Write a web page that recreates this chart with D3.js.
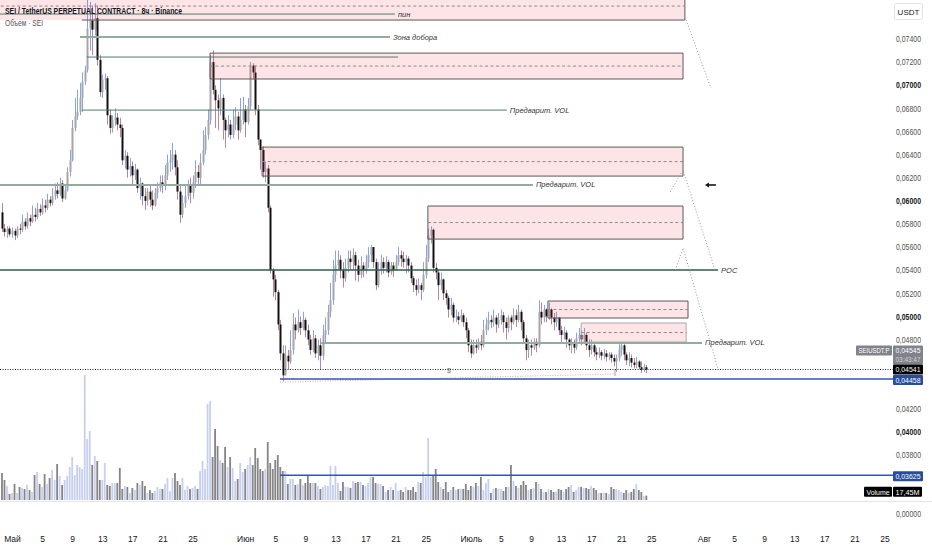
<!DOCTYPE html>
<html>
<head>
<meta charset="utf-8">
<script src="https://cdn.jsdelivr.net/npm/d3@7"></script>
<style>
  body { margin: 0; background: #fff; }
  svg { display: block; font-family: 'Liberation Sans', Arial, sans-serif; }
</style>
</head>
<body>
<div id="chart"></div>
<script>
// SEI/USDT perp, 8h candles
const startTime = '2024-04-29T16:00Z';
const stepHours = 8;
const firstOpen = 0.0590;

const closes = [
.0576,.0573,.0576,.0571,.0574,.0570,.0576,.0575,.0582,.0578,
.0585,.0582,.0588,.0586,.0593,.0590,.0596,.0594,.0601,.0598,
.0604,.0609,.0606,.0615,.0602,.0609,.0625,.0635,.0663,.0673,
.0677,.0689,.0703,.0713,.0749,.0756,.0748,.0758,.0722,.0694,
.0705,.0706,.0674,.0663,.0670,.0672,.0666,.0663,.0635,.0639,
.0627,.0630,.0622,.0627,.0611,.0615,.0604,.0600,.0608,.0601,
.0596,.0607,.0611,.0616,.0613,.0622,.0633,.0635,.0640,.0629,
.0608,.0588,.0598,.0604,.0613,.0607,.0616,.0625,.0620,.0633,
.0644,.0657,.0670,.0720,.0696,.0687,.0680,.0689,.0670,.0661,
.0666,.0657,.0666,.0673,.0661,.0670,.0679,.0668,.0682,.0717,
.0711,.0679,.0653,.0644,.0625,.0628,.0594,.0540,.0532,.0521,
.0493,.0468,.0449,.0466,.0461,.0471,.0493,.0488,.0495,.0490,
.0497,.0488,.0480,.0471,.0481,.0468,.0475,.0466,.0484,.0488,
.0504,.0514,.0536,.0544,.0549,.0540,.0533,.0542,.0550,.0547,
.0553,.0544,.0536,.0544,.0540,.0547,.0553,.0560,.0547,.0527,
.0540,.0547,.0542,.0547,.0538,.0544,.0540,.0547,.0553,.0550,
.0547,.0550,.0544,.0533,.0527,.0523,.0527,.0523,.0536,.0550,
.0570,.0575,.0542,.0538,.0527,.0532,.0520,.0516,.0506,.0510,
.0499,.0500,.0497,.0501,.0495,.0488,.0475,.0468,.0475,.0473,
.0478,.0475,.0488,.0493,.0497,.0495,.0499,.0493,.0497,.0501,
.0495,.0490,.0499,.0495,.0501,.0497,.0504,.0495,.0481,.0471,
.0475,.0473,.0478,.0475,.0504,.0499,.0506,.0500,.0506,.0499,
.0495,.0499,.0488,.0484,.0486,.0480,.0475,.0478,.0473,.0481,
.0484,.0480,.0484,.0475,.0471,.0475,.0469,.0467,.0469,.0466,
.0468,.0465,.0467,.0464,.0461,.0464,.0471,.0475,.0467,.0462,
.0464,.0460,.0458,.0461,.0456,.0454,.0456,.04541
];

const highs = [
.0598,.0580,.0578,.0578,.0577,.0576,.0578,.0580,.0588,.0585,
.0590,.0588,.0596,.0594,.0598,.0597,.0602,.0601,.0606,.0604,
.0611,.0615,.0616,.0620,.0618,.0614,.0629,.0644,.0670,.0689,
.0696,.0702,.0711,.0717,.0774,.0772,.0769,.0771,.0769,.0726,
.0709,.0710,.0708,.0679,.0674,.0680,.0676,.0672,.0666,.0644,
.0642,.0637,.0634,.0632,.0628,.0620,.0616,.0611,.0611,.0613,
.0609,.0611,.0616,.0622,.0622,.0631,.0640,.0644,.0650,.0644,
.0635,.0614,.0605,.0614,.0618,.0620,.0622,.0635,.0631,.0641,
.0661,.0664,.0679,.0726,.0730,.0700,.0692,.0706,.0692,.0672,
.0674,.0670,.0679,.0681,.0677,.0689,.0690,.0683,.0689,.0720,
.0719,.0717,.0683,.0653,.0647,.0634,.0631,.0596,.0542,.0536,
.0523,.0497,.0475,.0475,.0471,.0488,.0503,.0499,.0506,.0500,
.0504,.0499,.0493,.0484,.0488,.0484,.0480,.0481,.0493,.0499,
.0510,.0529,.0549,.0557,.0557,.0553,.0547,.0550,.0557,.0557,
.0559,.0556,.0549,.0552,.0547,.0553,.0560,.0562,.0560,.0550,
.0547,.0553,.0551,.0552,.0549,.0547,.0547,.0553,.0560,.0557,
.0556,.0553,.0552,.0547,.0535,.0532,.0533,.0529,.0547,.0562,
.0576,.0578,.0576,.0546,.0540,.0538,.0533,.0523,.0518,.0516,
.0512,.0506,.0504,.0506,.0503,.0499,.0490,.0480,.0480,.0480,
.0481,.0484,.0497,.0499,.0504,.0501,.0506,.0501,.0503,.0506,
.0504,.0499,.0501,.0501,.0507,.0506,.0510,.0506,.0497,.0484,
.0480,.0480,.0481,.0481,.0514,.0512,.0510,.0507,.0512,.0507,
.0503,.0504,.0499,.0492,.0491,.0488,.0481,.0481,.0480,.0486,
.0490,.0488,.0490,.0486,.0480,.0480,.0477,.0473,.0473,.0471,
.0472,.0471,.0469,.0469,.0467,.0467,.0476,.0477,.0476,.0469,
.0469,.0467,.0464,.0465,.0462,.0461,.0459,.0458
];

const lows = [
.0573,.0569,.0568,.0569,.0568,.0566,.0568,.0571,.0573,.0575,
.0576,.0578,.0581,.0582,.0584,.0587,.0588,.0590,.0592,.0595,
.0596,.0601,.0602,.0604,.0599,.0601,.0608,.0621,.0634,.0660,
.0670,.0674,.0677,.0700,.0711,.0730,.0726,.0743,.0717,.0690,
.0689,.0696,.0666,.0658,.0659,.0665,.0661,.0655,.0631,.0628,
.0620,.0621,.0613,.0618,.0607,.0601,.0596,.0592,.0596,.0595,
.0592,.0595,.0602,.0608,.0607,.0609,.0618,.0625,.0627,.0622,
.0601,.0581,.0585,.0594,.0601,.0598,.0602,.0611,.0614,.0614,
.0631,.0640,.0653,.0666,.0692,.0663,.0661,.0674,.0653,.0646,
.0655,.0653,.0654,.0661,.0653,.0659,.0666,.0655,.0666,.0679,
.0705,.0674,.0648,.0627,.0620,.0616,.0590,.0537,.0517,.0514,
.0488,.0462,.0444,.0452,.0454,.0459,.0467,.0480,.0486,.0484,
.0488,.0482,.0475,.0467,.0469,.0464,.0462,.0454,.0462,.0477,
.0484,.0499,.0510,.0530,.0540,.0533,.0525,.0530,.0538,.0540,
.0540,.0531,.0530,.0533,.0534,.0537,.0542,.0547,.0542,.0523,
.0525,.0536,.0537,.0538,.0534,.0536,.0534,.0540,.0544,.0543,
.0542,.0537,.0538,.0529,.0521,.0518,.0520,.0514,.0521,.0533,
.0547,.0563,.0538,.0532,.0514,.0523,.0514,.0510,.0499,.0501,
.0495,.0495,.0493,.0495,.0491,.0481,.0469,.0464,.0467,.0468,
.0471,.0471,.0473,.0484,.0488,.0490,.0491,.0486,.0490,.0493,
.0486,.0480,.0486,.0488,.0493,.0491,.0495,.0488,.0477,.0462,
.0464,.0466,.0471,.0469,.0473,.0493,.0495,.0495,.0497,.0493,
.0488,.0491,.0484,.0478,.0480,.0473,.0471,.0468,.0468,.0471,
.0478,.0475,.0477,.0471,.0465,.0467,.0465,.0462,.0464,.0462,
.0463,.0461,.0462,.0460,.0457,.0452,.0461,.0466,.0462,.0458,
.0457,.0456,.0455,.0455,.0454,.0451,.0452,.0451
];

// volume, millions of SEI
const volumes = [
108,80,56,24,28,64,28,52,48,44,
60,40,32,100,112,64,52,104,64,88,
120,80,144,96,60,80,96,132,172,100,
140,132,124,500,244,276,140,176,156,80,
80,148,60,56,68,68,68,128,44,56,
52,28,48,40,68,60,76,56,28,40,
28,36,52,44,44,64,88,36,88,108,
76,60,88,40,56,44,48,56,44,116,
156,124,384,396,172,284,216,160,148,212,
132,172,128,76,84,148,112,124,140,172,
140,208,168,124,116,124,232,148,124,160,
180,132,116,116,64,84,84,60,64,84,
60,68,96,68,68,68,56,44,52,60,
56,136,60,136,68,36,72,52,52,48,
76,68,72,72,60,56,68,92,92,68,
64,64,56,32,40,52,40,68,36,40,
32,52,40,40,52,32,72,68,112,92,
248,92,100,124,72,52,44,72,32,40,
52,40,44,44,44,64,40,56,52,68,
56,92,40,68,84,28,44,48,44,44,
36,52,52,140,76,56,48,60,76,60,
40,44,48,72,64,44,32,32,44,40,
32,32,44,40,32,44,52,60,32,40,
52,52,48,48,44,56,48,40,28,28,
28,28,24,52,44,44,40,32,28,40,
28,32,44,64,40,32,16,17.45
];

const priceTicks = [0.074,0.072,0.070,0.068,0.066,0.064,0.062,0.060,0.058,0.056,0.054,0.052,0.050,0.048,0.042,0.040,0.038];
const boldTicks = [0.070,0.060,0.050,0.040];

const monthStarts = ['2024-05-01','2024-06-01','2024-07-01','2024-08-01'];
const monthLabels = ['Май','Июн','Июль','Авг'];
const dayTicks = [5,9,13,17,21,25];

// drawings on the chart
const zones = [
  { from:'2024-04-20T00:00Z', edge:'2024-05-10T07:00Z', to:'2024-07-29T11:00Z', top:0.07806, bottom:0.07564 },
  { from:'2024-05-27T08:00Z', to:'2024-07-29T05:00Z', top:0.07278, bottom:0.07054 },
  { from:'2024-06-03T06:00Z', to:'2024-07-29T05:00Z', top:0.06465, bottom:0.06214 },
  { from:'2024-06-25T07:00Z', to:'2024-07-29T05:00Z', top:0.05955, bottom:0.05669 },
  { from:'2024-07-11T06:00Z', to:'2024-07-29T21:00Z', top:0.05133, bottom:0.04986 },
  { from:'2024-07-15T16:00Z', to:'2024-07-29T15:00Z', top:0.04943, bottom:0.04778, faint:true }
];

const levels = [
  { price:0.07616, from:'2024-04-20T00:00Z', to:'2024-06-20T22:00Z', label:'пин', kind:'thin' },
  { price:0.07417, from:'2024-05-10T01:00Z', to:'2024-06-20T06:00Z', label:'Зона добора', kind:'wide' },
  { price:0.07244, from:'2024-05-10T23:00Z', to:'2024-06-21T08:00Z', label:'', kind:'thin' },
  { price:0.06785, from:'2024-05-10T07:00Z', to:'2024-07-05T19:00Z', label:'Предварит. VOL', kind:'thin' },
  { price:0.06137, from:'2024-04-20T00:00Z', to:'2024-07-09T06:00Z', label:'Предварит. VOL', kind:'wide' },
  { price:0.05401, from:'2024-04-20T00:00Z', to:'2024-08-02T21:00Z', label:'POC', kind:'poc' },
  { price:0.04770, from:'2024-06-10T23:00Z', to:'2024-07-31T18:00Z', label:'Предварит. VOL', kind:'wide' }
];

const projections = [
  [['2024-07-29T15:00Z',0.07564],['2024-08-01T22:00Z',0.06976]],
  [['2024-07-27T12:00Z',0.06076],['2024-07-29T05:00Z',0.06266],['2024-08-02T11:00Z',0.05401]],
  [['2024-07-28T04:00Z',0.05401],['2024-07-29T05:00Z',0.05592],['2024-08-02T21:00Z',0.04541]]
];

const supportLevels = [0.04458, 0.03625];
const supportFrom = '2024-06-05T15:00Z';
const trendLine = [['2024-06-05T15:00Z',0.04432],['2024-07-20T04:00Z',0.04502]];
const lastPriceLabel = 0.04545;
const countdown = '03:43:47';

class CandleChart {
  constructor(){
    this.size = { width: 932, height: 550, axisX: 893, paneBottom: 501 };
    const t0 = new Date(startTime).getTime();
    this.data = closes.map((c, i) => {
      const o = i ? closes[i-1] : firstOpen;
      return { t: new Date(t0 + i*stepHours*3600e3), o, c,
               h: Math.max(highs[i], o, c), l: Math.min(lows[i], o, c), v: volumes[i] };
    });
    this.drawPlot();
  }

  drawPlot(){
    this.svg = d3.select('#chart').append('svg')
      .attr('width', this.size.width).attr('height', this.size.height);
    this.svg.append('rect').attr('width', this.size.width).attr('height', this.size.height).attr('fill', '#fff');

    this.x = d3.scaleUtc()
      .domain([new Date('2024-05-01T00:00Z'), new Date('2024-08-01T00:00Z')])
      .range([12, 704]);
    this.y = d3.scaleLinear().domain([0.040, 0.074]).range([432, 39]);
    this.yVol = d3.scaleLinear().domain([0, 500]).range([500, 375]);

    this.svg.append('clipPath').attr('id', 'pane')
      .append('rect').attr('x', 0).attr('y', 0).attr('width', this.size.axisX).attr('height', this.size.paneBottom);
    this.plot = this.svg.append('g').attr('clip-path', 'url(#pane)');

    this.drawVolume();
    this.drawCandles();
    this.drawDrawings();
    this.drawAxis();
    this.drawText();
  }

  drawVolume(){
    this.plot.append('g').selectAll('rect')
      .data(this.data).join('rect')
      .attr('x', d => this.x(d.t) - 0.9)
      .attr('width', 1.8)
      .attr('y', d => this.yVol(d.v))
      .attr('height', d => this.yVol(0) - this.yVol(d.v))
      .attr('fill', d => d.c >= d.o ? '#c7cff0' : '#858585');
  }

  drawCandles(){
    const g = this.plot.append('g');
    g.selectAll('line').data(this.data).join('line')
      .attr('x1', d => Math.round(this.x(d.t)) + 0.5)
      .attr('x2', d => Math.round(this.x(d.t)) + 0.5)
      .attr('y1', d => this.y(d.h))
      .attr('y2', d => this.y(d.l))
      .attr('stroke', d => d.c >= d.o ? '#86a3f0' : '#c08590')
      .attr('stroke-width', 1);
    g.selectAll('rect').data(this.data).join('rect')
      .attr('x', d => Math.round(this.x(d.t)) - 0.5)
      .attr('width', 2)
      .attr('y', d => this.y(Math.max(d.o, d.c)))
      .attr('height', d => Math.max(1, this.y(Math.min(d.o, d.c)) - this.y(Math.max(d.o, d.c))))
      .attr('fill', d => d.c >= d.o ? '#a6a6a6' : '#111');
  }

  drawDrawings(){
    const x = this.x, y = this.y, g = this.plot.append('g');
    const dt = s => new Date(s);

    // zones
    zones.forEach(z => {
      const x0 = x(dt(z.from)), x1 = x(dt(z.to)), y0 = y(z.top), y1 = y(z.bottom);
      const stroke = z.faint ? '#a8a8a8' : '#5a5a5a';
      g.append('rect').attr('x', x0).attr('y', y0).attr('width', x1 - x0).attr('height', y1 - y0)
        .attr('fill', 'rgba(242,54,69,0.13)');
      const ex = z.edge ? x(dt(z.edge)) : x0;
      g.append('path')
        .attr('d', `M${ex},${y0}H${x1}V${y1}H${ex}` + (z.edge ? '' : 'Z'))
        .attr('fill', 'none').attr('stroke', stroke).attr('stroke-width', 1);
      const ym = y((z.top + z.bottom) / 2);
      g.append('line').attr('x1', x0).attr('x2', x1).attr('y1', ym).attr('y2', ym)
        .attr('stroke', '#8c8c8c').attr('stroke-dasharray', '3,2.5');
    });

    // horizontal levels
    const styles = {
      thin: { stroke: '#4f7d6d', w: 1 },
      wide: { stroke: '#93aca0', w: 2 },
      poc:  { stroke: '#2e5c4c', w: 1.6 }
    };
    levels.forEach(l => {
      const st = styles[l.kind];
      const x1 = x(dt(l.to));
      g.append('line').attr('x1', x(dt(l.from))).attr('x2', x1)
        .attr('y1', y(l.price)).attr('y2', y(l.price))
        .attr('stroke', st.stroke).attr('stroke-width', st.w);
      if (l.label) g.append('text').attr('x', x1 + 3).attr('y', y(l.price) + 2.5)
        .attr('font-size', 7.5).attr('font-style', 'italic').attr('fill', '#333')
        .text(l.label);
    });

    // projection dotted lines
    const line = d3.line().x(p => x(dt(p[0]))).y(p => y(p[1]));
    projections.forEach(p => {
      g.append('path').attr('d', line(p)).attr('fill', 'none')
        .attr('stroke', '#9a9a9a').attr('stroke-dasharray', '1,2');
    });

    // trend from the low, pink dotted
    g.append('path').attr('d', line(trendLine)).attr('fill', 'none')
      .attr('stroke', '#e3a8ae').attr('stroke-dasharray', '1,1.5');
    const tEnd = trendLine[1];
    g.append('line').attr('x1', x(dt(tEnd[0]))).attr('x2', x(dt(tEnd[0])))
      .attr('y1', y(tEnd[1]) - 5).attr('y2', y(tEnd[1]) + 2).attr('stroke', '#d58f98');

    // current price dotted line
    const last = this.data[this.data.length - 1];
    this.svg.append('line').attr('x1', 0).attr('x2', this.size.axisX)
      .attr('y1', Math.round(y(last.c)) + 0.5).attr('y2', Math.round(y(last.c)) + 0.5)
      .attr('stroke', '#222').attr('stroke-dasharray', '1,1.5');

    // blue support lines
    supportLevels.forEach(p => {
      this.svg.append('line').attr('x1', x(dt(supportFrom))).attr('x2', this.size.axisX)
        .attr('y1', y(p)).attr('y2', y(p))
        .attr('stroke', '#3556b0').attr('stroke-width', 1.5);
    });

    // small marker
    g.append('text').attr('x', x(dt('2024-06-27T20:00Z'))).attr('y', y(0.04541) + 3.5)
      .attr('font-size', 7).attr('fill', '#777').text('$');

    // arrow
    const ay = y(0.06137);
    const ax = x(dt('2024-08-01T03:00Z'));
    this.svg.append('path').attr('d', `M${ax + 11},${ay}H${ax + 3}`)
      .attr('stroke', '#131722').attr('stroke-width', 1.6);
    this.svg.append('path').attr('d', `M${ax},${ay}L${ax + 4},${ay - 2.6}L${ax + 4},${ay + 2.6}Z`)
      .attr('fill', '#131722');
  }

  drawAxis(){
    const fmt = v => d3.format('.5f')(v).replace('.', ',');
    const ax = this.size.axisX;

    const yAxis = this.svg.append('g').attr('transform', `translate(${ax},0)`)
      .call(d3.axisRight(this.y).tickValues(priceTicks).tickSize(0).tickPadding(3).tickFormat(fmt));
    yAxis.select('.domain').remove();
    yAxis.selectAll('text')
      .attr('font-family', null).attr('font-size', 8.5)
      .attr('textLength', 25).attr('lengthAdjust', 'spacingAndGlyphs')
      .attr('fill', d => boldTicks.includes(d) ? '#131722' : '#505050')
      .attr('font-weight', d => boldTicks.includes(d) ? 700 : 400);

    // pane separator and empty lower pane
    this.svg.append('line').attr('x1', 0).attr('x2', this.size.width)
      .attr('y1', this.size.paneBottom + 0.5).attr('y2', this.size.paneBottom + 0.5)
      .attr('stroke', '#e3e5ea');
    this.svg.append('text').attr('x', ax + 3).attr('y', 517).attr('font-size', 8.5)
      .attr('textLength', 25).attr('lengthAdjust', 'spacingAndGlyphs')
      .attr('fill', '#505050').text(fmt(0));

    // time axis
    const tickDates = [];
    monthStarts.forEach(m => {
      tickDates.push(new Date(m + 'T00:00Z'));
      dayTicks.forEach(d => tickDates.push(new Date(m.slice(0, 8) + String(d).padStart(2, '0') + 'T00:00Z')));
    });
    const tf = d => d.getUTCDate() === 1
      ? monthLabels[monthStarts.findIndex(m => new Date(m + 'T00:00Z').getTime() === d.getTime())]
      : String(d.getUTCDate());
    const xAxis = this.svg.append('g').attr('transform', 'translate(0,536)')
      .call(d3.axisBottom(this.x).tickValues(tickDates).tickSize(0).tickPadding(0).tickFormat(tf));
    xAxis.select('.domain').remove();
    xAxis.selectAll('text').attr('font-family', null).attr('font-size', 8.5).attr('fill', '#131722');

    // USDT box
    this.svg.append('rect').attr('x', ax + 1.5).attr('y', 3.5).attr('width', 28).attr('height', 16)
      .attr('rx', 2).attr('fill', '#fff').attr('stroke', '#e0e3eb');
    this.svg.append('text').attr('x', ax + 15.5).attr('y', 14.5).attr('text-anchor', 'middle')
      .attr('font-size', 8).attr('fill', '#131722').text('USDT');

    // price tags
    const tag = (yc, bg, fg, text, x0 = ax, w = 30, fs = 8) => {
      this.svg.append('rect').attr('x', x0).attr('y', yc - 5).attr('width', w).attr('height', 10)
        .attr('fill', bg).attr('rx', 1);
      this.svg.append('text').attr('x', x0 + w/2).attr('y', yc + 3).attr('text-anchor', 'middle')
        .attr('font-size', fs).attr('textLength', w - 5).attr('lengthAdjust', 'spacingAndGlyphs')
        .attr('fill', fg).text(text);
    };
    const last = this.data[this.data.length - 1];
    const yl = this.y(last.c);

    // symbol + last price + countdown, stacked above the close tag
    const gTop = yl - 24;
    this.svg.append('rect').attr('x', ax).attr('y', gTop).attr('width', 30).attr('height', 19)
      .attr('fill', '#80838b').attr('rx', 1);
    this.svg.append('text').attr('x', ax + 15).attr('y', gTop + 7.5).attr('text-anchor', 'middle')
      .attr('font-size', 7).attr('textLength', 25).attr('lengthAdjust', 'spacingAndGlyphs')
      .attr('fill', '#fff').text(fmt(lastPriceLabel));
    this.svg.append('text').attr('x', ax + 15).attr('y', gTop + 17).attr('text-anchor', 'middle')
      .attr('font-size', 7).attr('textLength', 25).attr('lengthAdjust', 'spacingAndGlyphs')
      .attr('fill', '#d4d4d4').text(countdown);
    tag(gTop + 5, '#80838b', '#fff', 'SEIUSDT.P', ax - 37, 36, 6.5);

    tag(yl, '#000', '#fff', fmt(last.c));
    supportLevels.forEach(p => tag(this.y(p) + 1, '#2a4c9c', '#fff', fmt(p)));

    // volume tag
    const vy = this.yVol(last.v) - 4;
    tag(vy, '#000', '#fff', 'Volume', ax - 29, 28);
    tag(vy, '#000', '#fff', d3.format('.2f')(last.v).replace('.', ',') + 'M', ax, 29);
  }

  drawText(){
    this.svg.append('text').attr('x', 5).attr('y', 14)
      .attr('font-size', 8.5).attr('font-weight', 700).attr('fill', '#131722')
      .attr('textLength', 177).attr('lengthAdjust', 'spacingAndGlyphs')
      .text('SEI / TetherUS PERPETUAL CONTRACT · 8ч · Binance');
    this.svg.append('text').attr('x', 5).attr('y', 26)
      .attr('font-size', 8.5).attr('fill', '#555')
      .attr('textLength', 38).attr('lengthAdjust', 'spacingAndGlyphs')
      .text('Объем · SEI');
  }
}

new CandleChart();
</script>
</body>
</html>
